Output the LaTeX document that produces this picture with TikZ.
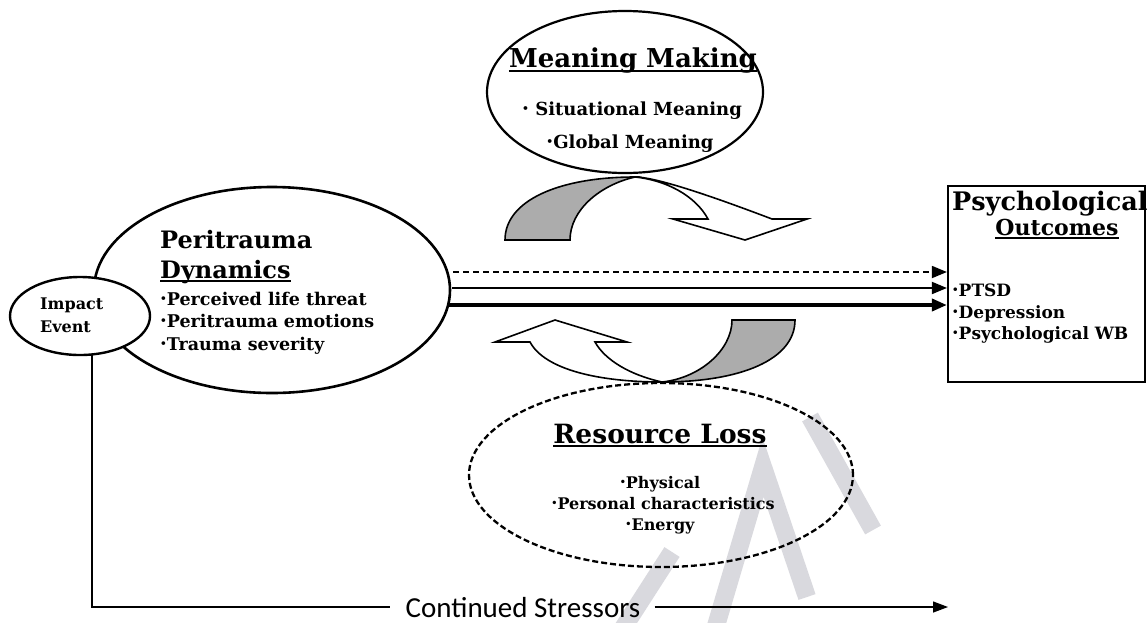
\documentclass[tikz,border=0pt]{standalone}
\usepackage{fontspec}
\usepackage{graphicx}
\setmainfont{DejaVu Serif}
\newfontfamily\calib{Carlito}
\usetikzlibrary{shapes.geometric,arrows.meta}
\definecolor{wm}{RGB}{217,217,222}
\definecolor{shade}{RGB}{172,172,172}
\newcommand\bul{\raisebox{0.25ex}{\scalebox{0.6}{\textbullet}}}
\newcommand\fs[1]{\fontsize{#1}{#1}\selectfont}
\begin{document}
\begin{tikzpicture}[x=1pt,y=-1pt,
  ell/.style={ellipse, draw, line width=2.2pt, fill=white, inner sep=0pt, outer sep=0pt},
  txt/.style={inner sep=0pt, font=\bfseries},
  uline/.style={line width=1.4pt},
  shaft/.style={line width=1.6pt, line join=miter},
  tip/.style={-{Triangle[length=15pt,width=12pt]}},
  wmark/.style={wm, line width=18pt}]
\useasboundingbox (0,0) rectangle (1147,622);
\fill[white] (0,0) rectangle (1147,622);
% watermark
\begin{scope}
\clip (0,0) rectangle (1147,622);
\draw[wmark] (618,636) -- (672,552);
\draw[wmark] (713,636) -- (763,467) -- (807,597);
\draw[wmark] (810,417) -- (873,530);
\end{scope}
% main shapes
\node[ell, line width=2.6pt, minimum width=356pt, minimum height=206pt] (peri) at (272,290) {};
\node[ell, line width=2.4pt, minimum width=140pt, minimum height=78pt] (impact) at (80,316) {};
\node[ell, minimum width=276pt, minimum height=162pt] (meaning) at (625,92) {};
\node[ell, fill=none, line width=2.3pt, dash pattern=on 6pt off 3pt, minimum width=384pt, minimum height=184pt] (resource) at (661,475) {};
\node[draw, line width=2.2pt, minimum width=197pt, minimum height=196pt, inner sep=0pt] (psych) at (1046.5,284) {};
% Impact Event
\node[txt, anchor=base west] (imp1) at (40,309) {\fs{16}Impact};
\node[txt, anchor=base west] (imp2) at (40,332) {\fs{16}Event};
% Peritrauma
\node[txt, anchor=base west] (p1) at (160,248) {\fs{24}Peritrauma};
\node[txt, anchor=base west] (p2) at (160,278) {\fs{24}Dynamics};
\draw[uline] ([yshift=-3pt]p2.base west) -- ([yshift=-3pt]p2.base east);
\node[txt, anchor=base west] (p3) at (160,305) {\fs{17.5}\bul Perceived life threat};
\node[txt, anchor=base west] (p4) at (160,327) {\fs{17.5}\bul Peritrauma emotions};
\node[txt, anchor=base west] (p5) at (160,350) {\fs{17.5}\bul Trauma severity};
% Meaning Making
\node[txt, anchor=base] (m1) at (633,67) {\fs{26}Meaning Making};
\draw[uline] ([yshift=-4pt]m1.base west) -- ([yshift=-4pt]m1.base east);
\node[txt, anchor=base] (m2) at (632,115) {\fs{18}\bul{} Situational Meaning};
\node[txt, anchor=base] (m3) at (630,148) {\fs{18}\bul Global Meaning};
% Resource Loss
\node[txt, anchor=base] (r1) at (660,443) {\fs{26.5}Resource Loss};
\draw[uline] ([yshift=-3pt]r1.base west) -- ([yshift=-3pt]r1.base east);
\node[txt, anchor=base] (r2) at (660,488) {\fs{16}\bul Physical};
\node[txt, anchor=base] (r3) at (663,509) {\fs{16}\bul Personal characteristics};
\node[txt, anchor=base] (r4) at (660,530) {\fs{16}\bul Energy};
% Psychological Outcomes
\node[txt, anchor=base west] (o1) at (952,210) {\fs{25.5}Psychological};
\node[txt, anchor=base] (o2) at (1057,235) {\fs{22}Outcomes};
\draw[uline] ([yshift=-3pt]o2.base west) -- ([yshift=-3pt]o2.base east);
\node[txt, anchor=base west] (o3) at (952,296) {\fs{17}\bul PTSD};
\node[txt, anchor=base west] (o4) at (952,318) {\fs{17}\bul Depression};
\node[txt, anchor=base west] (o5) at (952,339) {\fs{17}\bul Psychological WB};
% arrows to outcomes
\draw[tip, line width=1.8pt, dash pattern=on 6pt off 4pt] ([xshift=3pt,yshift=18pt]peri.east) -- ([yshift=12pt]psych.west);
\draw[tip, line width=1.9pt] ([xshift=2pt,yshift=2pt]peri.east) -- ([yshift=-4pt]psych.west);
\draw[tip, line width=3.6pt] ([xshift=-3pt,yshift=-15pt]peri.east) -- ([yshift=-21pt]psych.west);
% curved arrow (meaning making)
\draw[shaft, fill=shade] (505,240) .. controls (505,200) and (560,177) .. (635,177)
  .. controls (600,185) and (570,210) .. (570,240) -- cycle;
\draw[shaft, fill=white] (635,177) .. controls (660,177) and (735,205) .. (772,219)
  -- (807,219) -- (745,240) -- (673,219) -- (708,219)
  .. controls (695,195) and (665,180) .. (635,177) -- cycle;
% curved arrow (resource loss)
\draw[shaft, fill=shade] (732,320) -- (795,320) .. controls (795,360) and (740,382) .. (662,382)
  .. controls (700,378) and (732,350) .. (732,320) -- cycle;
\draw[shaft, fill=white] (662,382) .. controls (600,382) and (545,370) .. (530,342)
  -- (495,342) -- (555,320) -- (627,342) -- (595,342)
  .. controls (605,360) and (630,375) .. (662,382) -- cycle;
% continued stressors
\node[inner sep=0pt, anchor=base, font=\calib\fs{29}] (stress) at (523,617) {Continued Stressors};
\coordinate (send) at (948,607);
\draw[line width=1.3pt] ([xshift=12pt]impact.south) |- ([xshift=-15pt]stress.west |- send);
\draw[line width=1.3pt, -{Triangle[length=15pt,width=11pt]}] ([xshift=14pt]stress.east |- send) -- (send);
\end{tikzpicture}
\end{document}
